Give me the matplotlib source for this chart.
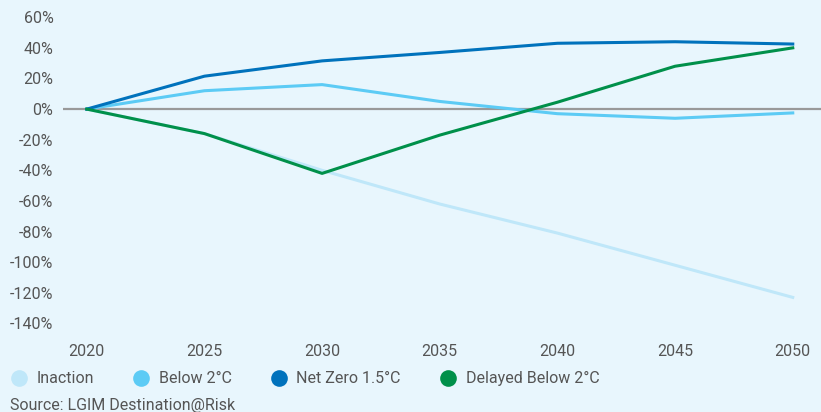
import matplotlib.pyplot as plt
from matplotlib.lines import Line2D
from matplotlib.ticker import FuncFormatter

plt.rcParams['font.family'] = ['Roboto', 'DejaVu Sans']

years = [2020, 2025, 2030, 2035, 2040, 2045, 2050]
inaction = [0, -16, -40, -62, -81, -102, -123]
below_2c = [0, 12, 16, 5, -3, -6, -2.5]
net_zero = [0, 21.5, 31.5, 37, 43, 44, 42.5]
delayed_below_2c = [0, -16, -42, -17, 4.5, 28, 40]

series = [
    ('Inaction', inaction, '#bfe7f9'),
    ('Below 2°C', below_2c, '#5ccbf5'),
    ('Net Zero 1.5°C', net_zero, '#0072bc'),
    ('Delayed Below 2°C', delayed_below_2c, '#00904a'),
]

bg = '#e8f6fd'
text_col = '#555555'
fs = 11.5

fig = plt.figure(figsize=(8.21, 4.12), dpi=100, facecolor=bg)
ax = fig.add_axes([0.077, 0.189, 0.923, 0.784], facecolor=bg)

ax.axhline(0, color='#999999', lw=1.6, zorder=1)
for name, vals, col in series:
    ax.plot(years, vals, color=col, lw=2.2, label=name, zorder=2)

ax.set_xlim(2019.0, 2051.2)
ax.set_ylim(-147, 64)
ax.set_xticks(years)
ax.set_yticks(range(-140, 61, 20))
ax.yaxis.set_major_formatter(FuncFormatter(lambda v, pos: f'{int(v)}%'))
for s in ax.spines.values():
    s.set_visible(False)
ax.tick_params(length=0, labelsize=fs, colors=text_col)
ax.tick_params(axis='y', pad=7)
ax.tick_params(axis='x', pad=7)

handles = [Line2D([], [], marker='o', ls='none', markersize=12, color=c,
                  markeredgewidth=0) for _, _, c in series]
fig.legend(handles, [n for n, _, _ in series], loc='lower left',
           bbox_to_anchor=(0.0, 0.035), ncol=4, frameon=False,
           fontsize=fs, labelcolor=text_col, handlelength=1.0,
           handletextpad=0.6, columnspacing=2.45, borderaxespad=0.3)

fig.text(0.012, -0.003, 'Source: LGIM Destination@Risk', fontsize=fs,
         color=text_col, va='bottom', ha='left')

fig.savefig('out.png', dpi=100, facecolor=bg)
